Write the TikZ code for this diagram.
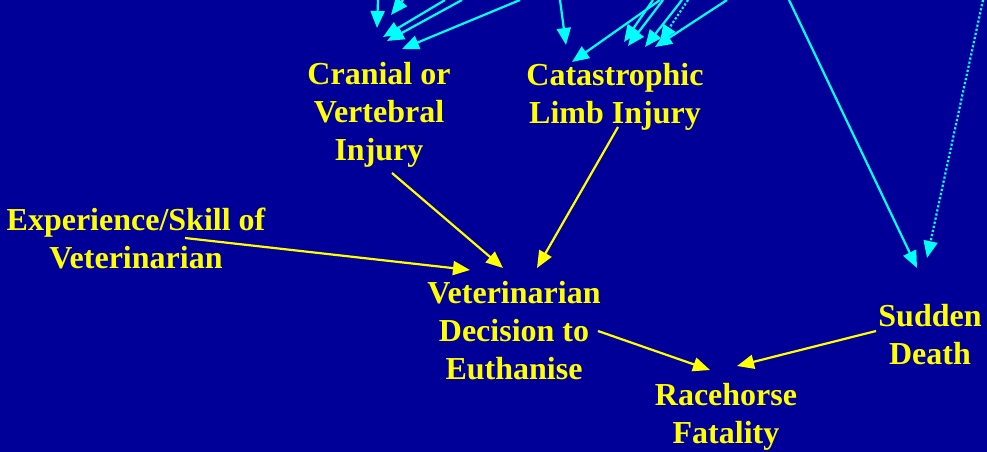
\documentclass[tikz,border=0pt]{standalone}
\usepackage{fontspec}
\setmainfont{Liberation Serif}
\usetikzlibrary{arrows.meta}
\definecolor{slideblue}{RGB}{0,0,153}
\definecolor{slideyellow}{RGB}{255,255,0}
\definecolor{slidecyan}{RGB}{0,255,255}

\begin{document}
\begin{tikzpicture}[
  x=1pt, y=-1pt,
  lbl/.style={text=slideyellow, font=\bfseries\fontsize{32}{38}\selectfont, align=center, inner sep=0pt},
  link/.style={draw=slideyellow, line width=2.2pt, -{Triangle[length=17pt,width=14pt]}},
  feed/.style={draw=slidecyan, line width=2.2pt, -{Triangle[length=17pt,width=14pt]}},
  feeddot/.style={feed, dotted},
]
\fill[slideblue] (0,0) rectangle (987,452);
\useasboundingbox (0,0) rectangle (987,452);
% labels
\node[lbl] (cranial) at (379,115) {Cranial or\\Vertebral\\Injury};
\node[lbl] (limb) at (615,97) {Catastrophic\\Limb Injury};
\node[lbl] (skill) at (136,238) {Experience/Skill of\\Veterinarian};
\node[lbl] (decision) at (514,331) {Veterinarian\\Decision to\\Euthanise};
\node[lbl] (fatality) at (726,417) {Racehorse\\Fatality};
\node[lbl] (sudden) at (930,335) {Sudden\\Death};
% free ends of the cut-off arrows at the top
\coordinate (c1) at (378,0);
\coordinate (c2) at (403,0);
\coordinate (c3) at (445,0);
\coordinate (c4) at (462,0);
\coordinate (c5) at (520,0);
\coordinate (l1) at (560,0);
\coordinate (l2) at (660,0);
\coordinate (l3) at (653,0);
\coordinate (l4) at (663,0);
\coordinate (l5) at (682,0);
\coordinate (l6) at (688,0);
\coordinate (l7) at (727,0);
\coordinate (s1) at (789,0);
\coordinate (s2) at (983,0);
% incoming arrows
\draw[feed] (c1) -- ([shift={(-2,-87)}]cranial.center);
\draw[feeddot] (c2) -- ([shift={(12,-100)}]cranial.center);
\draw[feed] (c3) -- ([shift={(4,-78)}]cranial.center);
\draw[feed] (c4) -- ([shift={(8,-74)}]cranial.center);
\draw[feed] (c5) -- ([shift={(23,-66)}]cranial.center);
\draw[feed] (l1) -- ([shift={(-49,-52)}]limb.center);
\draw[feed] (l2) -- ([shift={(-43,-35)}]limb.center);
\draw[feed] (l3) -- ([shift={(9,-55)}]limb.center);
\draw[feed] (l4) -- ([shift={(13,-51)}]limb.center);
\draw[feed] (l5) -- ([shift={(30,-50)}]limb.center);
\draw[feeddot] (l6) -- ([shift={(45,-55)}]limb.center);
\draw[feed] (l7) -- ([shift={(40,-50)}]limb.center);
\draw[feed] (s1) -- ([shift={(-13,-67)}]sudden.center);
\draw[feeddot] (s2) -- ([shift={(-3,-77)}]sudden.center);
% links between labels
\draw[link] ([shift={(13,58)}]cranial.center) -- ([shift={(-11,-63)}]decision.center);
\draw[link] ([shift={(3,30)}]limb.center) -- ([shift={(23,-63)}]decision.center);
\draw[link] ([shift={(49,0)}]skill.center) -- ([shift={(-44,-61)}]decision.center);
\draw[link] ([shift={(84,0)}]decision.center) -- ([shift={(-16,-47)}]fatality.center);
\draw[link] ([shift={(-54,-4)}]sudden.center) -- ([shift={(11,-51)}]fatality.center);
\end{tikzpicture}
\end{document}
